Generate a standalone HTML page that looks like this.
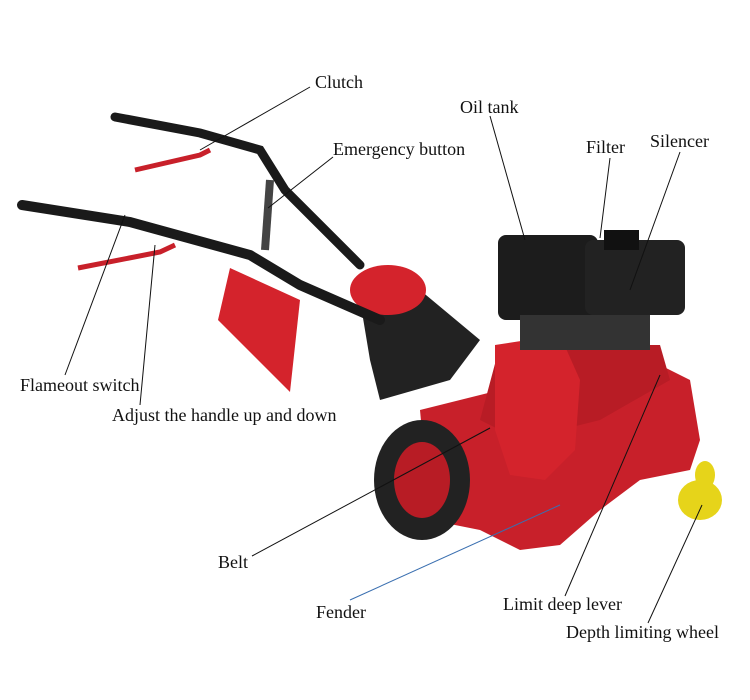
<!DOCTYPE html>
<html><head><meta charset="utf-8"><style>
html,body{margin:0;padding:0;background:#fff;width:750px;height:700px;overflow:hidden}
svg{display:block}
text{font-family:"Liberation Serif",serif;font-size:18px;fill:#111}
</style></head><body>
<svg width="750" height="700" viewBox="0 0 750 700">
<path d="M420,410 L640,355 L690,380 L700,440 L690,470 L640,480 L600,510 L560,545 L520,550 L480,530 L430,520 Z" fill="#c8202a"/>
<path d="M500,345 L660,345 L670,380 L600,420 L520,440 L480,420 Z" fill="#b81c25"/>
<ellipse cx="422" cy="480" rx="48" ry="60" fill="#222"/>
<ellipse cx="422" cy="480" rx="28" ry="38" fill="#b81c25"/>
<path d="M495,345 L560,335 L580,380 L575,450 L545,480 L510,475 L495,430 Z" fill="#d4232c"/>
<rect x="498" y="235" width="100" height="85" rx="8" fill="#1c1c1c"/>
<rect x="585" y="240" width="100" height="75" rx="8" fill="#222"/>
<rect x="604" y="230" width="35" height="20" fill="#111"/>
<rect x="520" y="315" width="130" height="35" fill="#333"/>
<path d="M360,300 L420,290 L480,340 L450,380 L380,400 L370,360 Z" fill="#222"/>
<ellipse cx="388" cy="290" rx="38" ry="25" fill="#d4232c"/>
<path d="M115,117 L200,133 L260,150 L285,190 L360,265" stroke="#1a1a1a" stroke-width="9" fill="none" stroke-linecap="round"/>
<path d="M22,205 L130,222 L250,255 L300,285 L380,320" stroke="#1a1a1a" stroke-width="10" fill="none" stroke-linecap="round"/>
<path d="M270,180 L265,250" stroke="#444" stroke-width="8"/>
<path d="M135,170 L200,155 L210,150" stroke="#c8202a" stroke-width="5" fill="none"/>
<path d="M78,268 L160,252 L175,245" stroke="#c8202a" stroke-width="5" fill="none"/>
<path d="M230,268 L300,300 L290,392 L218,320 Z" fill="#d4232c"/>
<ellipse cx="700" cy="500" rx="22" ry="20" fill="#e6d41a"/>
<ellipse cx="705" cy="475" rx="10" ry="14" fill="#e6d41a"/>
<g stroke="#111" stroke-width="1" fill="none">
<line x1="310" y1="87" x2="200" y2="150"/>
<line x1="490" y1="116" x2="525" y2="240"/>
<line x1="333" y1="157" x2="268" y2="208"/>
<line x1="610" y1="158" x2="600" y2="238"/>
<line x1="680" y1="152" x2="630" y2="290"/>
<line x1="65" y1="375" x2="125" y2="215"/>
<line x1="140" y1="405" x2="155" y2="245"/>
<line x1="252" y1="556" x2="490" y2="428"/>
<line x1="565" y1="596" x2="660" y2="375"/>
<line x1="648" y1="623" x2="702" y2="505"/>
</g>
<line x1="350" y1="600" x2="560" y2="505" stroke="#3a6fb0" stroke-width="1"/>
<text x="315" y="88">Clutch</text>
<text x="460" y="113">Oil tank</text>
<text x="333" y="155">Emergency button</text>
<text x="586" y="153">Filter</text>
<text x="650" y="147">Silencer</text>
<text x="20" y="391">Flameout switch</text>
<text x="112" y="421">Adjust the handle up and down</text>
<text x="218" y="568">Belt</text>
<text x="316" y="618">Fender</text>
<text x="503" y="610">Limit deep lever</text>
<text x="566" y="638">Depth limiting wheel</text>
</svg>
</body></html>
